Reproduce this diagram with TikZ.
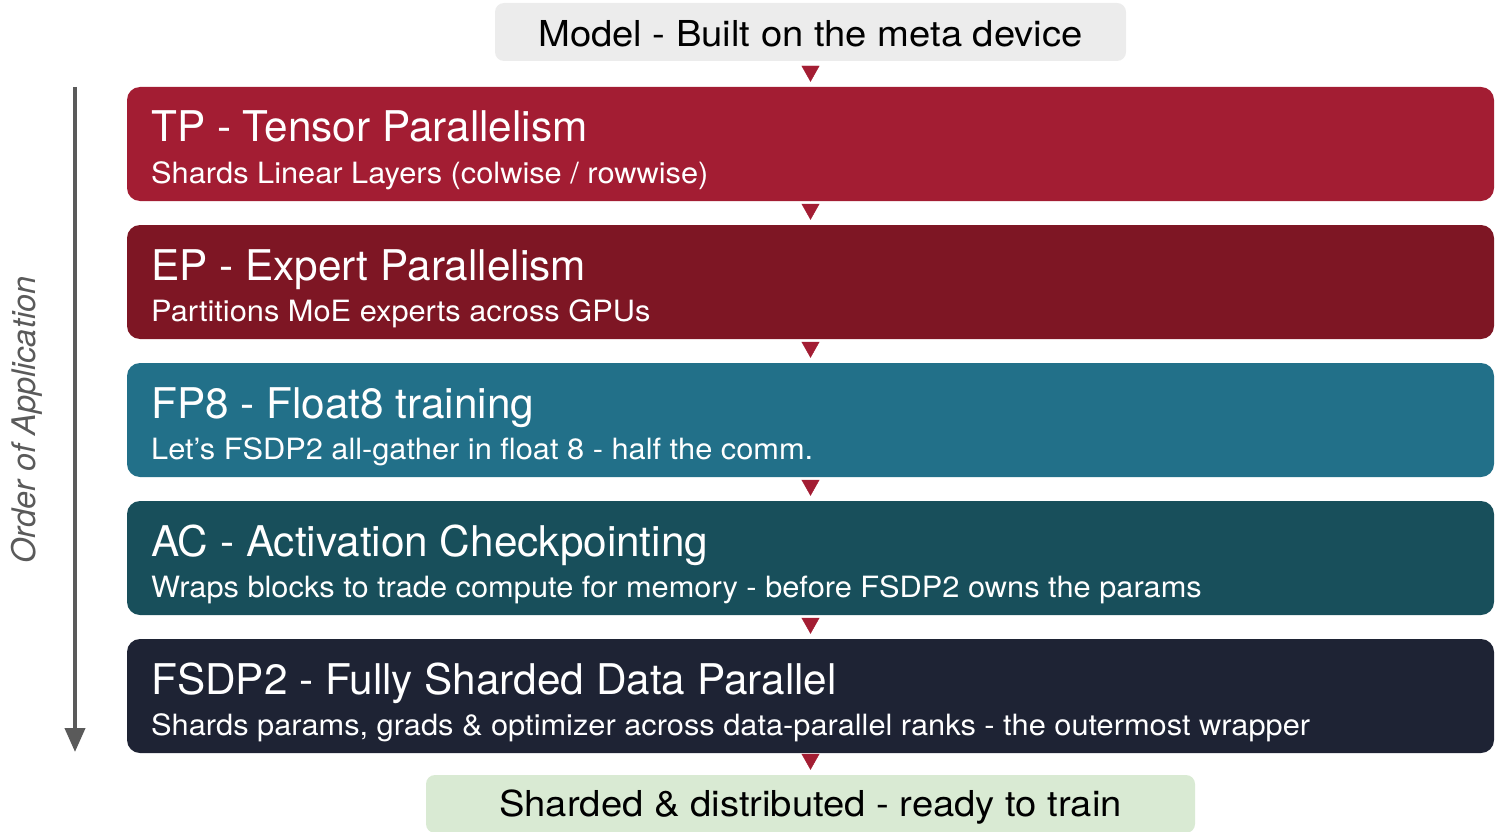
\documentclass[tikz,border=0pt]{standalone}
\usepackage{fontspec}
\setmainfont{TeX Gyre Heros}
\newfontfamily\subfont[FakeStretch=1.05]{TeX Gyre Heros}
\newfontfamily\endfont[FakeStretch=1.07]{TeX Gyre Heros}
\usetikzlibrary{arrows.meta}
\definecolor{tpred}{HTML}{A31D33}
\definecolor{epred}{HTML}{7E1624}
\definecolor{fpblue}{HTML}{227089}
\definecolor{acteal}{HTML}{184F5B}
\definecolor{fsdpnavy}{HTML}{1E2334}
\definecolor{modelgray}{HTML}{ECECEC}
\definecolor{readygreen}{HTML}{D9EAD3}
\definecolor{ordgray}{HTML}{5A5A5A}
\begin{document}
\begin{tikzpicture}[x=1pt, y=-1pt,
	layer/.style={rectangle, rounded corners=13pt, minimum width=1367pt, minimum height=114pt, inner sep=0pt},
	endbox/.style={rectangle, rounded corners=9pt, minimum height=58pt, inner sep=0pt},
	head/.style={anchor=base west, inner sep=0pt, text=white, font=\fontsize{42.3}{48}\selectfont},
	sub/.style={anchor=base west, inner sep=0pt, text=white, font=\subfont\fontsize{29.3}{34}\selectfont},
	endtext/.style={anchor=base, inner sep=0pt, font=\endfont\fontsize{35.7}{40}\selectfont},
	flow/.style={-{Triangle[width=18pt, length=16pt]}, color=tpred, shorten <=5pt, shorten >=5pt}]
	\useasboundingbox (0,0) rectangle (1496,832);
	% start and end
	\node[endbox, fill=modelgray, minimum width=631pt] (model)at(810.5, 32) {};
	\node[endtext] (modelT)at(810.5, 47) {Model - Built on the meta device};
	\node[endbox, fill=readygreen, minimum width=769pt] (ready)at(810.5, 804) {};
	\node[endtext] (readyT)at(810.5, 816) {Sharded \& distributed - ready to train};
	% the five layers
	\node[layer, fill=tpred] (tp)at(810.5, 144) {};
	\node[head] (tpT)at(151, 142) {TP - Tensor Parallelism};
	\node[sub] (tpS)at(151, 183) {Shards Linear Layers (colwise / rowwise)};
	\node[layer, fill=epred] (ep)at(810.5, 282) {};
	\node[head] (epT)at(151, 280) {EP - Expert Parallelism};
	\node[sub] (epS)at(151, 321) {Partitions MoE experts across GPUs};
	\node[layer, fill=fpblue] (fp)at(810.5, 420) {};
	\node[head] (fpT)at(151, 418) {FP8 - Float8 training};
	\node[sub] (fpS)at(151, 459) {Let’s FSDP2 all-gather in float 8 - half the comm.};
	\node[layer, fill=acteal] (ac)at(810.5, 558) {};
	\node[head] (acT)at(151, 556) {AC - Activation Checkpointing};
	\node[sub] (acS)at(151, 597) {Wraps blocks to trade compute for memory - before FSDP2 owns the params};
	\node[layer, fill=fsdpnavy] (fsdp)at(810.5, 696) {};
	\node[head] (fsdpT)at(151, 694) {FSDP2 - Fully Sharded Data Parallel};
	\node[sub] (fsdpS)at(151, 735) {Shards params, grads \& optimizer across data-parallel ranks - the outermost wrapper};
	\draw[flow] (model) -- (tp);
	\draw[flow] (tp) -- (ep);
	\draw[flow] (ep) -- (fp);
	\draw[flow] (fp) -- (ac);
	\draw[flow] (ac) -- (fsdp);
	\draw[flow] (fsdp) -- (ready);
	% order arrow
	\coordinate (ordtop)at(75, 87);
	\coordinate (ordbot)at(75, 752);
	\draw[line width=4pt, color=ordgray, -{Triangle[width=20pt, length=24pt]}] (ordtop) -- (ordbot);
	\node[rotate=90, text=ordgray, font=\fontsize{32.5}{38}\selectfont\itshape] (order)at(27, 420) {Order of Application};
\end{tikzpicture}
\end{document}
